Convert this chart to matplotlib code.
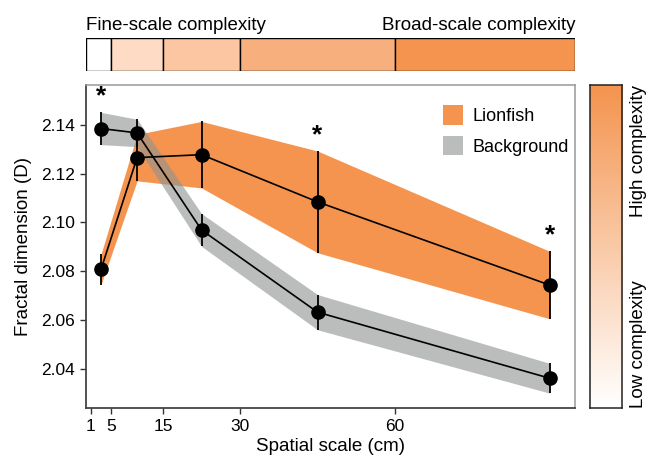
import numpy as np
import matplotlib
matplotlib.use("Agg")
import matplotlib.pyplot as plt
from matplotlib.patches import Patch, Rectangle
from matplotlib.colors import LinearSegmentedColormap

plt.rcParams['font.family'] = ['Liberation Sans', 'DejaVu Sans']

# data
scales = [3, 10, 22.5, 45, 90]
lion_mean = [2.0808, 2.1265, 2.1277, 2.1084, 2.0744]
lion_err = [0.0062, 0.0095, 0.0136, 0.0208, 0.0138]
bg_mean = [2.1384, 2.1366, 2.0969, 2.0633, 2.0363]
bg_err = [0.0066, 0.0056, 0.0067, 0.0072, 0.0061]
signif = [3, 45, 90]

x_ticks = [1, 5, 15, 30, 60]
y_ticks = [2.04, 2.06, 2.08, 2.10, 2.12, 2.14]

# top bar: scale bins and shading
bin_edges = [0, 5, 15, 30, 60, 95]
bin_colors = ['#FFFFFF', '#FDDBC5', '#FCC6A2', '#F8AF7E', '#F4944F']

orange = '#F4944F'
grey = '#8E9191'

lion_mean = np.array(lion_mean)
lion_err = np.array(lion_err)
bg_mean = np.array(bg_mean)
bg_err = np.array(bg_err)

fig = plt.figure(figsize=(6.48, 4.62), dpi=100)
ax = fig.add_axes([0.132, 0.1162, 0.756, 0.6988])
top = fig.add_axes([0.132, 0.8463, 0.756, 0.0708])
cb = fig.add_axes([0.9105, 0.1162, 0.0498, 0.6988])

# ribbons
ax.fill_between(scales, lion_mean - lion_err, lion_mean + lion_err,
                color=orange, lw=0, zorder=1)
ax.fill_between(scales, bg_mean - bg_err, bg_mean + bg_err,
                color=grey, alpha=0.6, lw=0, zorder=2)

# lines + error bars + points
for m, e in [(lion_mean, lion_err), (bg_mean, bg_err)]:
    ax.errorbar(scales, m, yerr=e, fmt='o-', color='black', ms=9.5,
                lw=1.2, elinewidth=1.3, capsize=0, zorder=4)

# significance stars
for s in signif:
    i = scales.index(s)
    ytop = max(lion_mean[i] + lion_err[i], bg_mean[i] + bg_err[i])
    ax.text(s, ytop + 0.0015, '*', ha='center', va='bottom',
            fontsize=19, fontweight='bold')

ax.set_xlim(0, 95)
ax.set_ylim(2.024, 2.156)
ax.set_xticks(x_ticks)
ax.set_yticks(y_ticks)
ax.set_yticklabels([f'{v:.2f}' for v in y_ticks])
ax.tick_params(labelsize=12.5, length=4, width=1, color='#333333')
ax.set_xlabel('Spatial scale (cm)', fontsize=13.5, labelpad=3)
ax.set_ylabel('Fractal dimension (D)', fontsize=13.5, labelpad=7)
for side in ['left', 'bottom']:
    ax.spines[side].set_color('#444444')
    ax.spines[side].set_linewidth(1.3)
for side in ['top', 'right']:
    ax.spines[side].set_color('#999999')
    ax.spines[side].set_linewidth(1.1)

handles = [Patch(facecolor=orange, edgecolor='none', label='Lionfish'),
           Patch(facecolor='#BBBDBD', edgecolor='none', label='Background')]
ax.legend(handles=handles, loc='upper right', bbox_to_anchor=(1.02, 0.99),
          frameon=False, fontsize=13, handlelength=1.1, handleheight=1.3,
          handletextpad=0.55, labelspacing=0.6)

# top bar with spatial scale bins
for i in range(len(bin_colors)):
    top.add_patch(Rectangle((bin_edges[i], 0), bin_edges[i + 1] - bin_edges[i], 1,
                            facecolor=bin_colors[i], edgecolor='black', lw=1))
top.set_xlim(0, 95)
top.set_ylim(0, 1)
top.axis('off')
top.text(0, 1.12, 'Fine-scale complexity', ha='left', va='bottom',
         fontsize=13.5, transform=top.transAxes)
top.text(1, 1.12, 'Broad-scale complexity', ha='right', va='bottom',
         fontsize=13.5, transform=top.transAxes)

# right colour gradient
cmap = LinearSegmentedColormap.from_list('cx', ['#FFFFFF', orange])
grad = np.linspace(0, 1, 256).reshape(-1, 1)
cb.imshow(grad, aspect='auto', cmap=cmap, origin='lower', extent=[0, 1, 0, 1])
cb.set_xticks([])
cb.set_yticks([])
for sp in cb.spines.values():
    sp.set_color('#222222')
    sp.set_linewidth(1.1)
cb.text(1.25, 1.0, 'High complexity', rotation=90, ha='left', va='top',
        fontsize=13.5, transform=cb.transAxes)
cb.text(1.25, 0.0, 'Low complexity', rotation=90, ha='left', va='bottom',
        fontsize=13.5, transform=cb.transAxes)

fig.savefig('out.png', dpi=100)
